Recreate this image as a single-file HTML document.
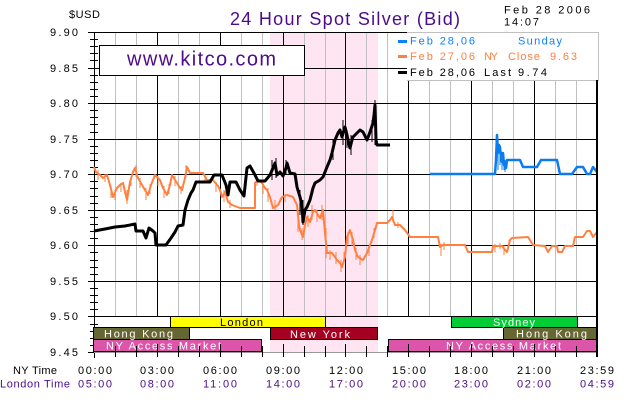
<!DOCTYPE html>
<html><head><meta charset="utf-8"><style>
html,body{margin:0;padding:0;background:#fff;}
svg{display:block;}
text{font-family:"Liberation Sans","DejaVu Sans",sans-serif;}
</style></head><body>
<svg width="630" height="400" viewBox="0 0 630 400" xmlns="http://www.w3.org/2000/svg">
<rect x="0" y="0" width="630" height="400" fill="#fff"/>
<!-- pink session -->
<rect x="270" y="32" width="108" height="320" fill="#ffe4f1"/>
<!-- gray hourly gridlines -->
<g stroke="#c0c0c0" stroke-width="1" shape-rendering="crispEdges">
<path d="M115.5 32V316M136.5 32V316M178.5 32V316M199.5 32V316M241.5 32V316M262.5 32V316M304.5 32V316M325.5 32V316M366.5 32V316M387.5 32V316M429.5 32V316M450.5 32V316M492.5 32V316M513.5 32V316M555.5 32V316M576.5 32V316"/>
</g>
<g stroke="#000" stroke-width="1" shape-rendering="crispEdges">
<path d="M157.5 32V316M220.5 32V316M283.5 32V316M345.5 32V316M408.5 32V316M471.5 32V316M534.5 32V316"/>
<path d="M88 32.5H597M88 68.5H597M88 103.5H597M88 139.5H597M88 174.5H597M88 210.5H597M88 245.5H597M88 281.5H597M88 316.5H597"/>
<path d="M88 352.5H94"/>
<path d="M94.5 32V358"/>
<!-- minor ticks -->
<path d="M90 39.5h8M90 46.5h8M90 53.5h8M90 60.5h8M90 75.5h8M90 82.5h8M90 89.5h8M90 96.5h8M90 110.5h8M90 117.5h8M90 124.5h8M90 132.5h8M90 146.5h8M90 153.5h8M90 160.5h8M90 167.5h8M90 181.5h8M90 188.5h8M90 196.5h8M90 203.5h8M90 217.5h8M90 224.5h8M90 231.5h8M90 238.5h8M90 252.5h8M90 260.5h8M90 267.5h8M90 274.5h8M90 288.5h8M90 295.5h8M90 302.5h8M90 309.5h8M90 324.5h8M90 331.5h8M90 338.5h8M90 345.5h8"/>
</g>
<path d="M94 352.5H597" stroke="#999" stroke-width="1" shape-rendering="crispEdges"/>

<!-- orange series -->
<g fill="none" stroke="#ff8040" stroke-linejoin="round">
<polyline stroke-width="2" points="94,167 96,172 100,175 103,178 107,175 110,185 113,197 117,188 120,185 123,183 125,192 127,200 130,182 133,172 135,168 138,178 142,185 145,190 148,195 151,185 155,175 160,180 163,188 167,195 170,185 172,175 177,183 180,188 182,190 185,178 187,167 190,173 203,173 207,180 213,180 218,186 220,190 222,197 225,192 228,202 232,205 240,208 255,208 255,183 258,180 262,183 265,188 267,190 270,197 273,208 278,205 282,197 287,195 293,197 297,205 299,225 300,230 303,237 305,225 307,217 310,222 313,212 315,210 318,215 320,218 323,210 325,233 327,253 332,253 335,257 337,260 340,263 342,267 345,257 347,237 350,230 353,240 355,250 358,257 363,260 367,253 370,245 372,240 375,230 377,223 387,223 390,220 392,217 395,225 400,225 403,228 405,230 410,237 438,237 440,247 443,245 465,245 468,252 492,252 493,246 502,246 505,250 507,252 510,240 512,238 528,237 533,245 545,246 548,252 552,246 557,246 558,252 562,252 565,246 573,246 575,237 583,237 587,231 590,231 593,237 597,232"/>
<path stroke-width="1" d="M98 170v10M105 174v8M111 186v12M115 190v10M121 183v9M127 190v14M131 178v8M136 165v12M140 178v10M146 188v12M150 184v10M158 176v10M164 186v12M169 184v10M175 176v10M181 186v8M186 165v12M205 175v8M216 182v10M224 190v12M230 200v8M257 178v8M263 182v12M268 188v14M275 200v10M285 194v8M298 212v20M302 228v12M308 215v12M312 205v15M317 210v12M322 205v15M326 228v30M330 250v10M336 252v12M341 260v12M344 252v10M348 232v12M352 232v14M356 248v12M360 255v10M369 246v10M374 228v10M393 210v12M398 222v6M441 244v12M444 242v8M495 244v8M500 243v6M504 245v10M509 240v6"/>
</g>

<!-- blue series -->
<g fill="none" stroke="#0a7cf0" stroke-linejoin="round">
<polyline stroke-width="2.5" points="430,174 495,174 496,160 497,135 498,153 499,145 500,147 501,158 502,162 503,153 504,165 506,168 507,160 508,160 520,160 523,167 537,167 541,160 557,160 560,174 572,174 577,167 583,167 587,174 590,174 593,167 597,172"/>
<path stroke-width="1" d="M496 140v30M498 150v20M500 145v20M502 152v18M504 155v15M505 160v12"/>
</g>

<!-- black series -->
<g fill="none" stroke="#000" stroke-linejoin="round">
<polyline stroke-width="3" points="94,231 105,229 115,227 125,226 135,224 136,231 143,231 146,238 149,228 153,231 155,233 156,245 166,245 171,238 175,232 178,226 183,225 185,210 188,200 191,193 193,190 196,182 210,182 214,175 222,175 226,185 228,195 230,182 236,182 240,190 244,196 247,168 250,166 255,175 258,181 265,181 270,175 273,168 275,163 277,175 280,172 283,176 286,168 287,163 290,173 295,174 297,187 300,197 302,205 303,222 305,210 307,207 310,200 313,188 315,183 320,180 323,177 327,167 330,160 332,153 335,140 338,133 340,130 342,137 345,127 347,135 348,140 350,148 352,140 353,137 357,133 360,130 363,132 367,140 370,132 373,123 374,115 375,105 376,140 377,145 390,145"/>
<path stroke-width="1" d="M272 160v20M276 158v20M286 160v15M300 190v25M303 200v25M333 140v20M343 120v25M347 130v18M351 135v20M372 120v22M375 100v45"/>
</g>

<!-- kitco box -->
<rect x="99.5" y="45.5" width="205" height="30" fill="#fff" stroke="#000" stroke-width="1" shape-rendering="crispEdges"/>
<text x="127" y="65.5" font-size="20" fill="#4b0b8b" textLength="149" lengthAdjust="spacing">www.kitco.com</text>

<!-- legend box -->
<rect x="407" y="32" width="191" height="48" fill="#fff"/>
<path d="M407 32.5H598.5V80.5H407" fill="none" stroke="#c0c0c0" stroke-width="1" shape-rendering="crispEdges"/>
<rect x="398" y="40" width="9" height="3" fill="#0a80ff"/>
<rect x="398" y="55" width="9" height="3" fill="#ff8040"/>
<rect x="398" y="71" width="9" height="3" fill="#000"/>
<g font-size="11">
<text x="410" y="44.5" fill="#0a80ff" textLength="65" lengthAdjust="spacing">Feb 28,06</text>
<text x="518" y="44.5" fill="#0a80ff" textLength="44" lengthAdjust="spacing">Sunday</text>
<text x="410" y="60" fill="#ff8040" textLength="65" lengthAdjust="spacing">Feb 27,06</text>
<text x="484" y="60" fill="#ff8040" textLength="14" lengthAdjust="spacing">NY</text>
<text x="508" y="60" fill="#ff8040" textLength="32" lengthAdjust="spacing">Close</text>
<text x="550" y="60" fill="#ff8040" textLength="27" lengthAdjust="spacing">9.63</text>
<text x="410" y="76" fill="#000" textLength="65" lengthAdjust="spacing">Feb 28,06</text>
<text x="484" y="76" fill="#000" textLength="27" lengthAdjust="spacing">Last</text>
<text x="518" y="76" fill="#000" textLength="29" lengthAdjust="spacing">9.74</text>
</g>

<!-- bands -->
<g stroke="#000" stroke-width="1" shape-rendering="crispEdges">
<rect x="170.5" y="316.5" width="155" height="11" fill="#ffff00"/>
<rect x="451.5" y="316.5" width="126" height="11" fill="#00cc33"/>
<rect x="93.5" y="327.5" width="96" height="12" fill="#666633"/>
<rect x="270.5" y="327.5" width="107" height="12" fill="#a50021"/>
<rect x="503.5" y="327.5" width="94" height="12" fill="#666633"/>
<rect x="93.5" y="339.5" width="168" height="12" fill="#dd55aa"/>
<rect x="388.5" y="339.5" width="209" height="12" fill="#dd55aa"/>
</g>
<g font-size="11">
<text x="220" y="326" fill="#000" textLength="43" lengthAdjust="spacing">London</text>
<text x="493" y="326" fill="#fff" textLength="42" lengthAdjust="spacing">Sydney</text>
<text x="104" y="337.5" fill="#fff" textLength="69" lengthAdjust="spacing">Hong Kong</text>
<text x="290" y="338" fill="#fff" textLength="60" lengthAdjust="spacing">New York</text>
<text x="516" y="337.5" fill="#fff" textLength="71" lengthAdjust="spacing">Hong Kong</text>
<text x="106" y="349.5" fill="#fff" textLength="115" lengthAdjust="spacing">NY Access Market</text>
<text x="446" y="349.5" fill="#fff" textLength="115" lengthAdjust="spacing">NY Access Market</text>
</g>

<!-- bottom ticks -->
<g stroke="#000" stroke-width="1" shape-rendering="crispEdges">
<path d="M115.5 346V357M136.5 346V357M157.5 344V357M178.5 346V357M199.5 346V357M220.5 344V357M241.5 346V357M262.5 346V357M283.5 344V357M304.5 346V357M325.5 346V357M345.5 344V357M366.5 346V357M387.5 346V357M408.5 344V357M429.5 346V357M450.5 346V357M471.5 344V357M492.5 346V357M513.5 346V357M534.5 344V357M555.5 346V357M576.5 346V357"/>
</g>
<rect x="596" y="80" width="2" height="277" fill="#000"/>

<!-- header texts -->
<text x="69" y="18" font-size="11" fill="#000" textLength="31" lengthAdjust="spacing">$USD</text>
<text x="230" y="25" font-size="18" fill="#4b0b8b" textLength="230" lengthAdjust="spacing">24 Hour Spot Silver (Bid)</text>
<text x="504" y="13.5" font-size="11" fill="#000" textLength="86" lengthAdjust="spacing">Feb 28 2006</text>
<text x="504" y="25.5" font-size="11" fill="#000" textLength="35" lengthAdjust="spacing">14:07</text>

<!-- y labels -->
<g font-size="11" fill="#000">
<text x="50" y="36" textLength="28" lengthAdjust="spacing">9.90</text>
<text x="50" y="72" textLength="28" lengthAdjust="spacing">9.85</text>
<text x="50" y="107" textLength="28" lengthAdjust="spacing">9.80</text>
<text x="50" y="143" textLength="28" lengthAdjust="spacing">9.75</text>
<text x="50" y="178" textLength="28" lengthAdjust="spacing">9.70</text>
<text x="50" y="214" textLength="28" lengthAdjust="spacing">9.65</text>
<text x="50" y="249" textLength="28" lengthAdjust="spacing">9.60</text>
<text x="50" y="285" textLength="28" lengthAdjust="spacing">9.55</text>
<text x="50" y="320" textLength="28" lengthAdjust="spacing">9.50</text>
<text x="50" y="356" textLength="28" lengthAdjust="spacing">9.45</text>
</g>

<!-- x labels -->
<g font-size="11">
<text x="13" y="374" fill="#000" textLength="44" lengthAdjust="spacing">NY Time</text>
<text x="0" y="387.5" fill="#4b0b8b" textLength="70" lengthAdjust="spacing">London Time</text>
<g fill="#000">
<text x="78" y="374" textLength="34" lengthAdjust="spacing">00:00</text>
<text x="140" y="374" textLength="34" lengthAdjust="spacing">03:00</text>
<text x="203" y="374" textLength="34" lengthAdjust="spacing">06:00</text>
<text x="266" y="374" textLength="34" lengthAdjust="spacing">09:00</text>
<text x="329" y="374" textLength="34" lengthAdjust="spacing">12:00</text>
<text x="392" y="374" textLength="34" lengthAdjust="spacing">15:00</text>
<text x="454" y="374" textLength="34" lengthAdjust="spacing">18:00</text>
<text x="517" y="374" textLength="34" lengthAdjust="spacing">21:00</text>
<text x="580" y="374" textLength="34" lengthAdjust="spacing">23:59</text>
</g>
<g fill="#4b0b8b">
<text x="78" y="387.5" textLength="34" lengthAdjust="spacing">05:00</text>
<text x="140" y="387.5" textLength="34" lengthAdjust="spacing">08:00</text>
<text x="203" y="387.5" textLength="34" lengthAdjust="spacing">11:00</text>
<text x="266" y="387.5" textLength="34" lengthAdjust="spacing">14:00</text>
<text x="329" y="387.5" textLength="34" lengthAdjust="spacing">17:00</text>
<text x="392" y="387.5" textLength="34" lengthAdjust="spacing">20:00</text>
<text x="454" y="387.5" textLength="34" lengthAdjust="spacing">23:00</text>
<text x="517" y="387.5" textLength="34" lengthAdjust="spacing">02:00</text>
<text x="580" y="387.5" textLength="34" lengthAdjust="spacing">04:59</text>
</g>
</g>
</svg>
</body></html>
